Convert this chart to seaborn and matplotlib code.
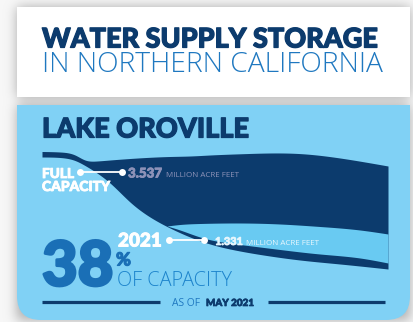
import numpy as np
import matplotlib
matplotlib.use("Agg")
import matplotlib.pyplot as plt
import matplotlib.patheffects as pe
import seaborn as sns
from matplotlib.patches import FancyBboxPatch, Rectangle

# ---------------- data ----------------
title_lines = ["WATER SUPPLY STORAGE", "IN NORTHERN CALIFORNIA"]
lake_name = "LAKE OROVILLE"
series_labels = ["FULL\nCAPACITY", "2021"]
storage_maf = [3.537, 1.331]          # million acre feet
unit_label = "MILLION ACRE FEET"
as_of_label = ["AS OF ", "MAY 2021"]

# illustrative lake cross-section profile (drawing units)
lake_x = [42, 60, 75, 85, 97, 110, 130, 150, 170, 190, 210, 240, 270, 300, 340, 388]
surface_y = [151.5, 152, 155, 160, 161, 160, 158.5, 157.3, 156.5, 156, 155, 153.8, 153, 153.6, 158, 166]
bed_y = [157, 157.5, 160.5, 165.5, 173, 183, 202, 217, 228, 237, 244, 251, 256, 260, 264, 269]
level_x = [167, 180, 200, 240, 280, 320, 360, 388]
level_top = [226, 224.5, 223.5, 223, 224, 226.5, 230, 234]
level_bed = [226, 230, 237, 244.5, 249.5, 254, 258, 263]

pct = round(100 * storage_maf[1] / storage_maf[0])

# ---------------- style ----------------
NAVY = "#0c3b6d"
BLUE = "#1f78c0"
PANEL = "#80d1f5"
LIGHTWATER = "#69caf2"
BIG = "#1a6fb6"
GREYTXT = "#8d92b8"
LIGHT = dict(family=["Open Sans", "DejaVu Sans"], fontweight="light")
REG = dict(family=["Open Sans", "DejaVu Sans"], fontweight="normal")

sns.set_theme(style="white")
plt.rcParams["font.family"] = ["DejaVu Sans"]

W, H = 413, 322
fig = plt.figure(figsize=(W / 100, H / 100), dpi=100)
ax = fig.add_axes([0, 0, 1, 1])
ax.set_xlim(0, W)
ax.set_ylim(H, 0)
ax.axis("off")


def heavy(color, stroke=0.7):
    return dict(family=["Lato", "DejaVu Sans"], fontweight="black", color=color,
                path_effects=[pe.withStroke(linewidth=stroke, foreground=color)])


def spline(xk, yk, n=400):
    xk = np.asarray(xk, float)
    yk = np.asarray(yk, float)
    m = len(xk)
    h = np.diff(xk)
    A = np.zeros((m, m))
    b = np.zeros(m)
    A[0, 0] = A[-1, -1] = 1
    for i in range(1, m - 1):
        A[i, i - 1] = h[i - 1]
        A[i, i] = 2 * (h[i - 1] + h[i])
        A[i, i + 1] = h[i]
        b[i] = 6 * ((yk[i + 1] - yk[i]) / h[i] - (yk[i] - yk[i - 1]) / h[i - 1])
    M = np.linalg.solve(A, b)
    xs = np.linspace(xk[0], xk[-1], n)
    idx = np.clip(np.searchsorted(xk, xs) - 1, 0, m - 2)
    x0, x1 = xk[idx], xk[idx + 1]
    hh = x1 - x0
    t0, t1 = x1 - xs, xs - x0
    ys = (M[idx] * t0**3 + M[idx + 1] * t1**3) / (6 * hh) \
        + (yk[idx] / hh - M[idx] * hh / 6) * t0 + (yk[idx + 1] / hh - M[idx + 1] * hh / 6) * t1
    return xs, ys


# ---------------- background with soft shadows ----------------
mask = np.zeros((H, W))
mask[7:97, 17:410] = 1
mask[105:320, 17:410] = 1
k = np.exp(-0.5 * (np.arange(-20, 21) / 6.0) ** 2)
k /= k.sum()
blur = np.apply_along_axis(lambda r: np.convolve(r, k, mode="same"), 1, mask)
blur = np.apply_along_axis(lambda c: np.convolve(c, k, mode="same"), 0, blur)
shade = 0.97 - 0.30 * blur
bg = np.dstack([shade, shade, shade])
ax.imshow(bg, extent=(0, W, H, 0), zorder=0, interpolation="bilinear")

ax.add_patch(Rectangle((17, 7), 393, 90, facecolor="white", edgecolor="none", zorder=1))
ax.add_patch(FancyBboxPatch((17 + 24, 105 + 24), 393 - 48, 215 - 48,
                            boxstyle="round,pad=24", facecolor=PANEL, edgecolor="none", zorder=1))
ax.add_patch(Rectangle((17, 105), 393, 100, facecolor=PANEL, edgecolor="none", zorder=1))

# ---------------- lake ----------------
xs, top = spline(lake_x, surface_y)
_, bot = spline(lake_x, bed_y)
ax.fill_between(xs, top, bot, color=NAVY, linewidth=0, zorder=2)
lx, ltop = spline(level_x, level_top)
_, lbot = spline(level_x, level_bed)
ax.fill_between(lx, ltop, np.maximum(lbot, ltop), color=LIGHTWATER, linewidth=0, zorder=3)

# ---------------- text ----------------
renderer = fig.canvas.get_renderer()


def txt(x, y, s, width, **kw):
    t = ax.text(x, y, s, ha="left", va="baseline", fontsize=10, zorder=5, **kw)
    bb = t.get_window_extent(renderer)
    t.set_fontsize(10 * width / bb.width)
    return t


txt(42, 47.5, title_lines[0], 335, **heavy(NAVY, 0.9))
txt(42, 71.5, title_lines[1], 341, color=BLUE, **LIGHT)
txt(42, 137.5, lake_name, 207, **heavy(NAVY, 0.9))

full_lbl, lbl_2021 = series_labels
fl = full_lbl.split("\n")
txt(42, 178, fl[0], 32, **heavy("white", 0.6))
txt(42, 191, fl[1], 68, **heavy("white", 0.6))
txt(128, 177.5, f"{storage_maf[0]:.3f}", 34, **heavy(GREYTXT, 0.6))
txt(166, 177, unit_label, 74, color=GREYTXT, **REG)

txt(118, 246.5, lbl_2021, 44, **heavy("white", 0.7))
txt(215, 245, f"{storage_maf[1]:.3f}", 28, **heavy("#e6f6fd", 0.5))
txt(246, 245, unit_label, 73, color="#e6f6fd", **REG)

sns.lineplot(x=[80, 122], y=[172, 172], color="white", linewidth=1.3, marker="o",
             markersize=5, markeredgewidth=0, ax=ax, zorder=6)
sns.lineplot(x=[169, 204], y=[240, 240], color="white", linewidth=1.3, marker="o",
             markersize=5, markeredgewidth=0, ax=ax, zorder=6)

txt(42, 285.5, f"{pct}", 72, **heavy(BIG, 2.0))
txt(116, 265.5, "%", 15, **heavy(BIG, 0.8))
txt(117, 286.5, "OF CAPACITY", 115, color="#1d84cc", **LIGHT)

txt(172, 306, as_of_label[0].strip(), 28, color=BLUE, **REG)
txt(206, 306, as_of_label[1], 48, **heavy(NAVY, 0.5))
ax.plot([42, 160], [302, 302], color=NAVY, linewidth=2.3, solid_capstyle="butt", zorder=4)
ax.plot([268, 385], [302, 302], color=NAVY, linewidth=2.3, solid_capstyle="butt", zorder=4)

fig.savefig("out.png", dpi=100)
